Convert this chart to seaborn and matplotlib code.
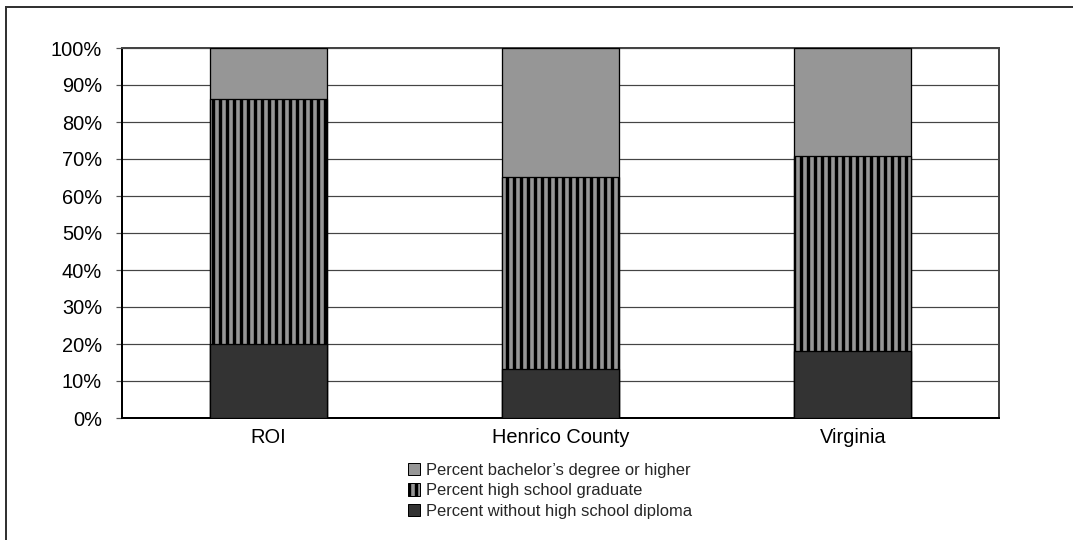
import matplotlib
matplotlib.use("Agg")
import matplotlib.pyplot as plt
from matplotlib.patches import Patch, Rectangle
from matplotlib.ticker import PercentFormatter
import numpy as np
import pandas as pd
import seaborn as sns

# Educational attainment shares (percent of adults 25+)
regions = ["ROI", "Henrico County", "Virginia"]
no_diploma = [20.0, 13.2, 18.2]
hs_graduate = [66.2, 52.0, 52.6]
bachelors = [13.8, 34.8, 29.2]
series_labels = [
    "Percent bachelor\u2019s degree or higher",
    "Percent high school graduate",
    "Percent without high school diploma",
]

W, H, DPI = 1073, 540, 84


def px(v):
    """Convert a size in pixels to points at the figure dpi."""
    return v * 72.0 / DPI


sns.set_theme(style="white")
plt.rcParams["font.family"] = ["Liberation Sans", "DejaVu Sans"]
plt.rcParams["hatch.linewidth"] = px(3.4)
plt.rcParams["hatch.color"] = "black"

df = pd.DataFrame({
    "region": regions,
    "no_diploma": no_diploma,
    "hs_graduate": hs_graduate,
    "bachelors": bachelors,
})
df["level1"] = df["no_diploma"]
df["level2"] = df["no_diploma"] + df["hs_graduate"]
df["level3"] = df["level2"] + df["bachelors"]

fig = plt.figure(figsize=(W / DPI, H / DPI), dpi=DPI)
ax = fig.add_axes([122 / W, 1 - 418 / H, (999 - 122) / W, (418 - 48) / H])

light = "#969696"
dark = "#333333"
edge_lw = px(1.3)

# stacked bars drawn from the top segment down
sns.barplot(data=df, x="region", y="level3", color=light, width=0.4,
            saturation=1, edgecolor="black", linewidth=edge_lw, ax=ax, zorder=3)
sns.barplot(data=df, x="region", y="level2", color=light, width=0.4,
            saturation=1, edgecolor="black", linewidth=edge_lw, ax=ax, zorder=3)
n = len(regions)
for p in ax.patches[n:2 * n]:
    p.set_hatch("||")
sns.barplot(data=df, x="region", y="level1", color=dark, width=0.4,
            saturation=1, edgecolor="black", linewidth=edge_lw, ax=ax, zorder=3)

ax.set_ylim(0, 100)
ax.set_xlim(-0.5, n - 0.5)
ax.set_yticks(np.arange(0, 101, 10))
ax.yaxis.set_major_formatter(PercentFormatter(decimals=0))
ax.set_xlabel("")
ax.set_ylabel("")
ax.yaxis.grid(True, color="#444444", linewidth=px(1.2), zorder=0)
ax.xaxis.grid(False)
ax.set_axisbelow(True)

tick_fs = px(20)
ax.tick_params(axis="y", which="major", length=px(6), width=px(1.2),
               color="#555555", direction="out", labelsize=tick_fs,
               pad=px(14), left=True)
ax.tick_params(axis="x", length=0, labelsize=tick_fs, pad=px(10))
for lbl in ax.get_yticklabels() + ax.get_xticklabels():
    lbl.set_color("black")

for side in ["left", "bottom"]:
    ax.spines[side].set_color("black")
    ax.spines[side].set_linewidth(px(2))
for side in ["top", "right"]:
    ax.spines[side].set_color("#444444")
    ax.spines[side].set_linewidth(px(2))
    ax.spines[side].set_visible(True)

handles = [
    Patch(facecolor=light, edgecolor="black", linewidth=px(1)),
    Patch(facecolor=light, edgecolor="black", linewidth=px(1), hatch="||"),
    Patch(facecolor=dark, edgecolor="black", linewidth=px(1)),
]
leg = fig.legend(handles, series_labels, loc="upper left",
                 bbox_to_anchor=(408 / W, 1 - 463 / H), frameon=False,
                 fontsize=px(16.5), handlelength=0.75, handleheight=0.75,
                 handletextpad=0.35, labelspacing=0.32, borderaxespad=0,
                 borderpad=0)

# outer chart frame
fig.patches.append(Rectangle((6 / W, -0.05), 1.2, 1 - 7 / H + 0.05,
                             transform=fig.transFigure, fill=False,
                             edgecolor="#333333", linewidth=px(2)))

fig.savefig("out.png", dpi=DPI)
